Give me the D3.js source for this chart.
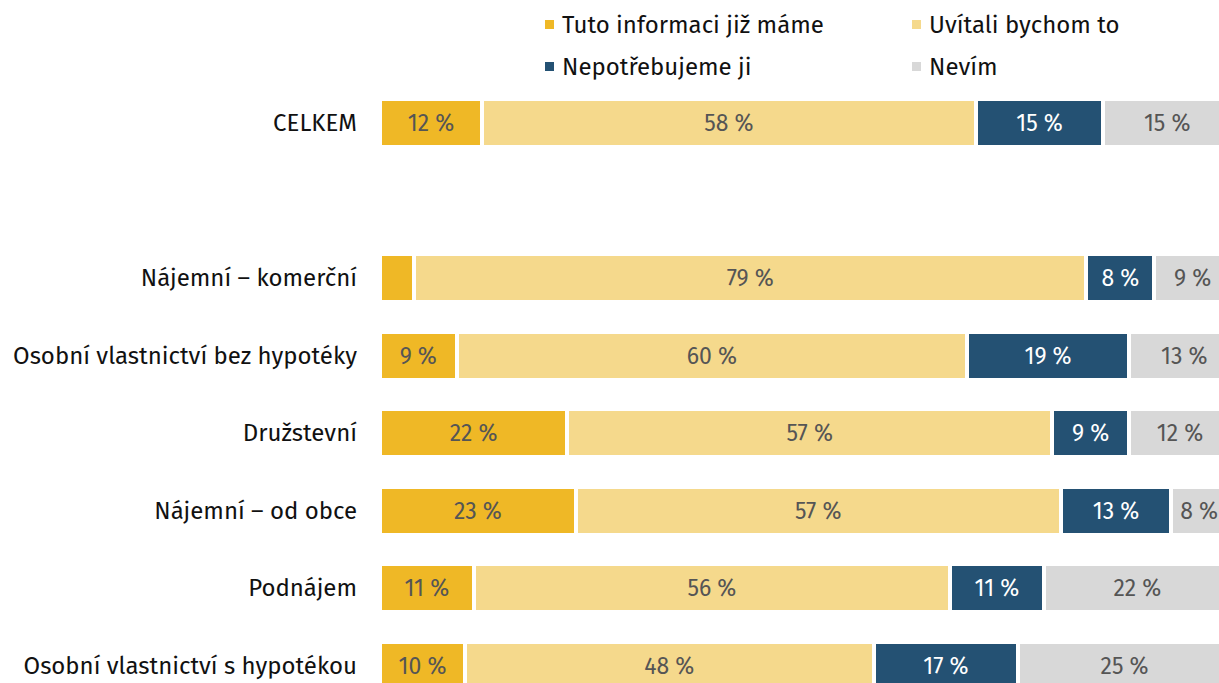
<!DOCTYPE html>
<html><head><meta charset="utf-8">
<script src="https://cdn.jsdelivr.net/npm/d3@7"></script>
<style>html,body{margin:0;padding:0;background:#fff;overflow:hidden}</style>
</head><body><svg id="c" width="1219" height="683"></svg>
<script>
const categories = ["CELKEM", "", "Nájemní – komerční", "Osobní vlastnictví bez hypotéky", "Družstevní", "Nájemní – od obce", "Podnájem", "Osobní vlastnictví s hypotékou"];
const seriesNames = ["Tuto informaci již máme", "Uvítali bychom to", "Nepotřebujeme ji", "Nevím"];
const mame =        [12, null, 4, 9, 22, 23, 11, 10];
const uvitali =     [58, null, 79, 60, 57, 57, 56, 48];
const nepotrebujeme = [15, null, 8, 19, 9, 13, 11, 17];
const nevim =       [15, null, 9, 13, 12, 8, 22, 25];
const hiddenLabels = [[2, 0]]; // category index, series index without label
const colors = ["#EFB826", "#F5D98C", "#245173", "#D8D8D8"];
const labelColors = ["#555555", "#555555", "#ffffff", "#555555"];

const series = [mame, uvitali, nepotrebujeme, nevim];
const font = "'Fira Sans','Noto Sans',sans-serif";
const svg = d3.select("#c");
const W = 1219;

const x = d3.scaleLinear().domain([0, 100]).range([380, 1231]);
const step = 77.5, pi = (77.5 - 48) / 77.5, po = pi / 2;
const y0 = 99 - po * step;
const y = d3.scaleBand().domain(categories.map((c, i) => i)).range([y0, y0 + step * categories.length]).paddingInner(pi).paddingOuter(po);

const rows = [];
categories.forEach((c, i) => {
  if (series[0][i] == null) return;
  let acc = 0;
  series.forEach((s, j) => {
    rows.push({i, j, start: acc, end: acc + s[i], v: s[i]});
    acc += s[i];
  });
});

svg.append("g").selectAll("rect").data(rows).join("rect")
  .attr("x", d => x(d.start))
  .attr("y", d => y(d.i))
  .attr("width", d => x(d.end) - x(d.start))
  .attr("height", y.bandwidth())
  .attr("fill", d => colors[d.j])
  .attr("stroke", "#fff").attr("stroke-width", 4).attr("stroke-linejoin", "miter")
  .attr("shape-rendering", "crispEdges");

svg.append("g").selectAll("text").data(rows.filter(d => !hiddenLabels.some(h => h[0] === d.i && h[1] === d.j))).join("text")
  .attr("x", d => (x(d.start) + x(d.end)) / 2)
  .attr("y", d => y(d.i) + y.bandwidth() / 2)
  .attr("dy", "0.35em")
  .attr("text-anchor", "middle")
  .attr("font-family", font).attr("font-size", 23)
  .attr("fill", d => labelColors[d.j])
  .text(d => d.v + " %")
  .each(function(d) {
    const w = this.getComputedTextLength();
    const cx = +this.getAttribute("x");
    const maxCx = W - 1 - w / 2;
    if (cx > maxCx) this.setAttribute("x", maxCx);
  });

// category labels
svg.append("g").selectAll("text").data(categories.map((c, i) => ({c, i})).filter(d => d.c)).join("text")
  .attr("x", 357)
  .attr("y", d => y(d.i) + y.bandwidth() / 2)
  .attr("dy", "0.35em")
  .attr("text-anchor", "end")
  .attr("font-family", font).attr("font-size", 24)
  .attr("fill", "#111")
  .text(d => d.c);

// legend
const legPos = [[545, 25], [912, 25], [545, 67], [912, 67]];
const legOrder = [0, 1, 2, 3];
const lg = svg.append("g").selectAll("g").data(legOrder).join("g")
  .attr("transform", (d, k) => `translate(${legPos[k][0]},${legPos[k][1]})`);
lg.append("rect").attr("x", 0).attr("y", -5).attr("width", 9).attr("height", 9).attr("fill", d => colors[d]);
lg.append("text").attr("x", 17).attr("y", 0).attr("dy", "0.35em")
  .attr("font-family", font).attr("font-size", 24).attr("fill", "#111")
  .text(d => seriesNames[d]);
</script></body></html>
